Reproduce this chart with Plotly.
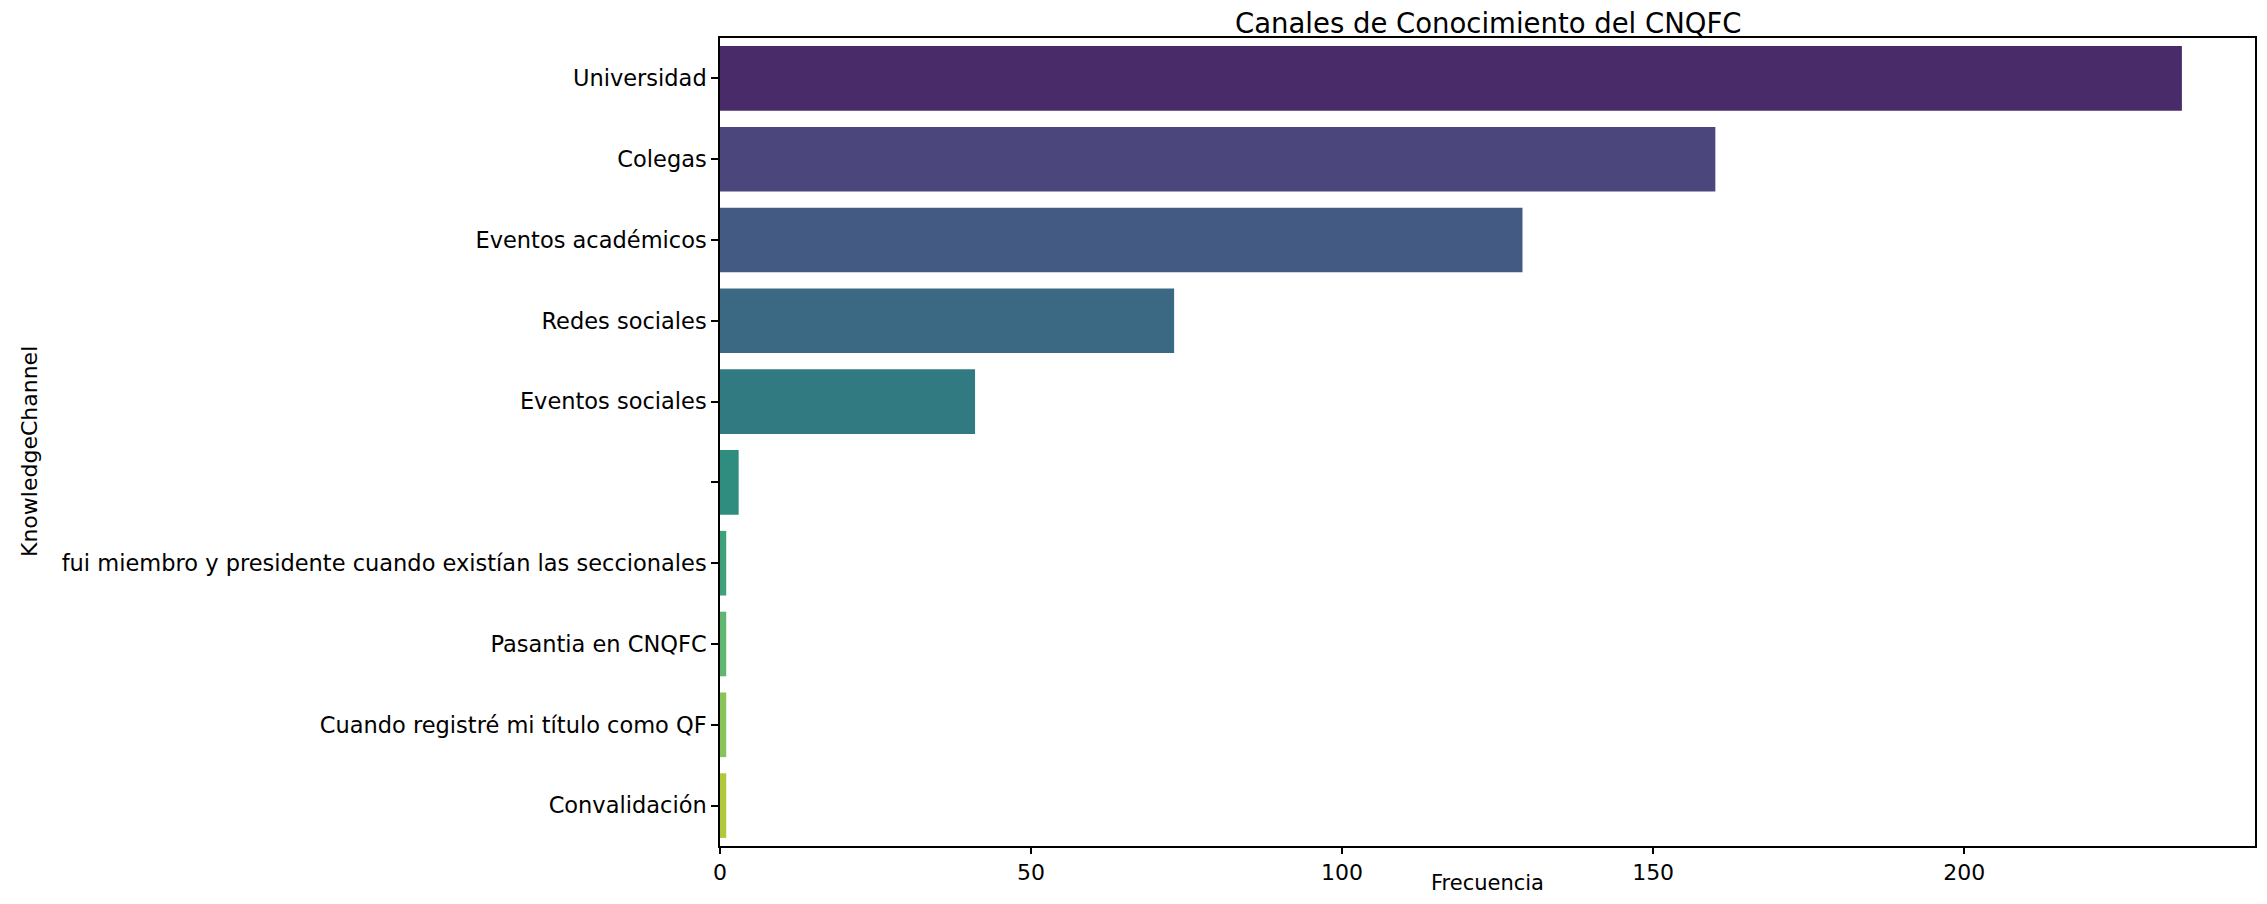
import colorsys
import plotly.graph_objects as go

categories = [
    "Universidad",
    "Colegas",
    "Eventos académicos",
    "Redes sociales",
    "Eventos sociales",
    "",
    "fui miembro y presidente cuando existían las seccionales",
    "Pasantia en CNQFC",
    "Cuando registré mi título como QF",
    "Convalidación",
]
frecuencia = [235, 160, 129, 73, 41, 3, 1, 1, 1, 1]
x_ticks = [0, 50, 100, 150, 200]

# viridis sampled at k/11 (seaborn palette), then desaturated like seaborn bars
viridis10 = ["#482173", "#433e85", "#38598c", "#2f6b8e", "#25858e",
             "#1e9d89", "#2db27d", "#52c569", "#86d549", "#c2df23"]


def desat(hx, prop=0.75):
    r, g, b = (int(hx[i:i + 2], 16) / 255 for i in (1, 3, 5))
    h, l, s = colorsys.rgb_to_hls(r, g, b)
    r, g, b = colorsys.hls_to_rgb(h, l, s * prop)
    return "#%02x%02x%02x" % (round(r * 255), round(g * 255), round(b * 255))


colors = [desat(c) for c in viridis10]
pos = list(range(len(categories)))

FONT = "DejaVu Sans"
W, H = 2251, 888
L, R, T, B = 712, 4, 30, 50
PW = W - L - R
PH = H - T - B

fig = go.Figure(go.Bar(
    x=frecuencia,
    y=pos,
    orientation="h",
    width=0.8,
    marker=dict(color=colors, line=dict(width=0)),
))

fig.update_layout(
    width=W, height=H,
    margin=dict(l=L, r=R, t=T, b=B, autoexpand=False),
    paper_bgcolor="white", plot_bgcolor="white",
    showlegend=False,
    font=dict(family=FONT, size=22, color="black"),
)

fig.update_xaxes(
    range=[0, max(frecuencia) * 1.05],
    tickvals=x_ticks, ticktext=[str(v) for v in x_ticks],
    ticks="outside", ticklen=6, tickwidth=1.6, tickcolor="black",
    showline=True, linecolor="black", linewidth=1.6, mirror=True,
    showgrid=False, zeroline=False, automargin=False,
    tickfont=dict(family=FONT, size=22, color="black"),
)
fig.update_yaxes(
    range=[len(categories) - 0.5, -0.5],
    tickvals=pos, ticktext=categories,
    ticks="outside", ticklen=7, tickwidth=1.6, tickcolor="black",
    showline=True, linecolor="black", linewidth=1.6, mirror=True,
    showgrid=False, zeroline=False, automargin=False,
    tickfont=dict(family=FONT, size=22.5, color="black"),
)

# title
fig.add_annotation(
    text="Canales de Conocimiento del CNQFC",
    xref="paper", yref="paper", x=0.5, y=(H - B - 15) / PH,
    xanchor="center", yanchor="middle", showarrow=False,
    font=dict(family=FONT, size=27.5, color="black"),
)
# x axis title
fig.add_annotation(
    text="Frecuencia",
    xref="paper", yref="paper", x=0.5, y=(H - B - 875) / PH,
    xanchor="center", yanchor="middle", showarrow=False,
    font=dict(family=FONT, size=21, color="black"),
)
# y axis title
fig.add_annotation(
    text="KnowledgeChannel", textangle=-90,
    xref="paper", yref="paper", x=(21 - L) / PW, y=(H - B - 444) / PH,
    xanchor="center", yanchor="middle", showarrow=False,
    font=dict(family=FONT, size=22, color="black"),
)

fig.write_html("out.html")
